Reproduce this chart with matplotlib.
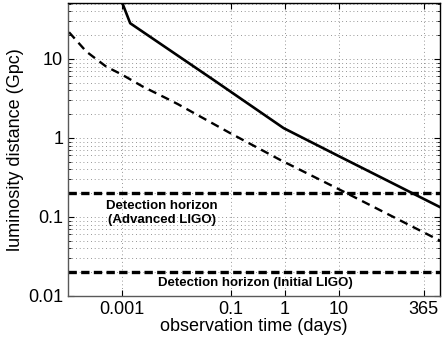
import numpy as np
import matplotlib
matplotlib.use("Agg")
import matplotlib.pyplot as plt
from matplotlib.ticker import LogLocator, NullFormatter, FixedLocator, FixedFormatter

plt.rcParams['font.family'] = ['Liberation Sans', 'DejaVu Sans']

# solid curve
t_solid = [0.00099, 0.0014, 0.0484, 0.95, 10.3, 730]
d_solid = [52, 28.3, 5.42, 1.33, 0.58, 0.133]

# dashed curve
t_dash = [1.04e-4, 2.17e-4, 5.07e-4, 9.6e-4, 0.0024, 0.0065, 0.0107, 0.098, 0.82, 9.1, 730]
d_dash = [21.8, 12.4, 7.98, 6.4, 4.46, 3.18, 2.67, 1.15, 0.527, 0.231, 0.05]

# detection horizons (Gpc)
horizon_adv = 0.2
horizon_init = 0.02

xticks = [0.001, 0.1, 1, 10, 365]
xticklabels = ['0.001', '0.1', '1', '10', '365']
yticks = [0.01, 0.1, 1, 10]
yticklabels = ['0.01', '0.1', '1', '10']

fig = plt.figure(figsize=(4.45, 3.39), dpi=100)
ax = fig.add_axes([0.153, 0.127, 0.836, 0.864])

ax.set_xscale('log')
ax.set_yscale('log')
ax.set_xlim(1e-4, 730)
ax.set_ylim(0.01, 51)

# grid: vertical at major x only, horizontal at all decades + minors
ax.xaxis.set_major_locator(FixedLocator(xticks))
ax.xaxis.set_major_formatter(FixedFormatter(xticklabels))
ax.xaxis.set_minor_locator(FixedLocator([]))
ax.yaxis.set_major_locator(FixedLocator(yticks))
ax.yaxis.set_major_formatter(FixedFormatter(yticklabels))
ax.yaxis.set_minor_locator(LogLocator(base=10, subs=np.arange(2, 10)))
ax.yaxis.set_minor_formatter(NullFormatter())

gkw = dict(color='0.45', linestyle=(0, (1, 3.5)), linewidth=0.6)
ax.grid(True, which='major', axis='both', **gkw)
ax.grid(True, which='minor', axis='y', **gkw)
ax.set_axisbelow(True)

ax.plot(t_solid, d_solid, color='k', lw=1.9, solid_joinstyle='round')
ax.plot(t_dash, d_dash, color='k', lw=1.7, dashes=(3.6, 2.4))
ax.axhline(horizon_adv, color='k', lw=2.4, dashes=(2.5, 1.3))
ax.axhline(horizon_init, color='k', lw=2.4, dashes=(2.5, 1.3))

ax.text(0.253, 0.283, 'Detection horizon\n(Advanced LIGO)', transform=ax.transAxes,
        ha='center', va='center', fontsize=9.5, fontweight='bold', linespacing=1.25)
ax.text(0.504, 0.044, 'Detection horizon (Initial LIGO)', transform=ax.transAxes,
        ha='center', va='center', fontsize=9.5, fontweight='bold')

ax.tick_params(which='both', direction='in', top=True, right=True, labelsize=13)
ax.tick_params(which='major', length=4)
ax.tick_params(which='minor', length=2)
for s in ax.spines.values():
    s.set_linewidth(1.0)
ax.spines['left'].set_color('0.35')
ax.spines['bottom'].set_color('0.35')

ax.set_xlabel('observation time (days)', fontsize=13, labelpad=0)
ax.set_ylabel('luminosity distance (Gpc)', fontsize=13, labelpad=3)

fig.savefig('out.png', dpi=100)
